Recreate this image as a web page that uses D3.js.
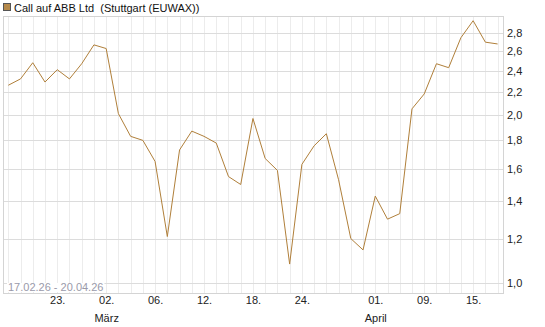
<!DOCTYPE html>
<html>
<head>
<meta charset="utf-8">
<script src="https://cdn.jsdelivr.net/npm/d3@7/dist/d3.min.js"></script>
<style>
  body { margin: 0; background: #fff; }
  text { font-family: "Liberation Sans", Arial, sans-serif; }
</style>
</head>
<body>
<div class="canvas"></div>
<script>
// trading days shown in the chart
const dates = [
  '17.02', '18.02', '19.02', '20.02', '23.02', '24.02', '25.02', '26.02',
  '02.03', '03.03', '04.03', '05.03', '06.03', '09.03', '10.03', '11.03',
  '12.03', '13.03', '16.03', '17.03', '18.03', '19.03', '20.03', '23.03',
  '24.03', '25.03', '26.03', '27.03', '30.03', '31.03', '01.04', '02.04',
  '07.04', '08.04', '09.04', '10.04', '13.04', '14.04', '15.04', '17.04', '20.04'
];

const prices = [
  2.26, 2.32, 2.48, 2.29, 2.41, 2.32, 2.47, 2.67, 2.63, 2.01, 1.83, 1.80,
  1.65, 1.21, 1.73, 1.87, 1.83, 1.78, 1.55, 1.50, 1.97, 1.67, 1.59, 1.08,
  1.63, 1.76, 1.85, 1.53, 1.20, 1.145, 1.43, 1.30, 1.33, 2.05, 2.18, 2.47,
  2.43, 2.75, 2.95, 2.70, 2.68
];

const yTicks = [1.0, 1.2, 1.4, 1.6, 1.8, 2.0, 2.2, 2.4, 2.6, 2.8];

// x tick labels: date -> label, month name under first day of month
const xTicks = ['23.02', '02.03', '06.03', '12.03', '18.03', '24.03', '01.04', '09.04', '15.04'];
const monthNames = { '03': 'März', '04': 'April' };

const title = 'Call auf ABB Ltd  (Stuttgart (EUWAX))';
const rangeLabel = '17.02.26 - 20.04.26';

const dims = { width: 545, height: 327 };
const plot = { left: 3, right: 503, top: 16, bottom: 293 };
const lineColor = '#b07f3a';

const svg = d3.select('.canvas')
  .append('svg')
  .attr('width', dims.width)
  .attr('height', dims.height);

const x = d3.scalePoint()
  .domain(dates)
  .range([8.3, 497.6]);

const y = d3.scaleLog()
  .domain([0.9584, 3.008])
  .range([plot.bottom, plot.top]);

// vertical grid, one line per trading day
svg.append('g')
  .selectAll('line')
  .data(dates)
  .enter().append('line')
  .attr('x1', d => Math.round(x(d)) + 0.5)
  .attr('x2', d => Math.round(x(d)) + 0.5)
  .attr('y1', plot.top)
  .attr('y2', plot.bottom)
  .attr('stroke', '#ececec');

// horizontal grid
svg.append('g')
  .selectAll('line')
  .data(yTicks)
  .enter().append('line')
  .attr('x1', plot.left)
  .attr('x2', plot.right)
  .attr('y1', d => Math.round(y(d)) + 0.5)
  .attr('y2', d => Math.round(y(d)) + 0.5)
  .attr('stroke', '#dcdcdc');

// frame
svg.append('rect')
  .attr('x', plot.left + 0.5)
  .attr('y', plot.top + 0.5)
  .attr('width', plot.right - plot.left)
  .attr('height', plot.bottom - plot.top)
  .attr('fill', 'none')
  .attr('stroke', '#d4d4d4');

// date range in the lower left corner
const rangeText = svg.append('text')
  .attr('x', 8)
  .attr('y', 291)
  .attr('font-size', 11)
  .attr('fill', '#9a9aaa')
  .text(rangeLabel);
const bb = rangeText.node().getBBox();
svg.insert('rect', 'text')
  .attr('x', bb.x - 1)
  .attr('y', 283)
  .attr('width', bb.width + 2)
  .attr('height', 9)
  .attr('fill', '#fff');

// price line
const line = d3.line()
  .x((d, i) => x(dates[i]))
  .y(d => y(d));

svg.append('path')
  .datum(prices)
  .attr('d', line)
  .attr('fill', 'none')
  .attr('stroke', lineColor)
  .attr('stroke-width', 1);

// y axis labels on the right
const yAxis = d3.axisRight(y)
  .tickValues(yTicks)
  .tickSize(0)
  .tickPadding(4)
  .tickFormat(d => d3.format('.1f')(d).replace('.', ','));

svg.append('g')
  .attr('transform', `translate(${plot.right}, 0)`)
  .call(yAxis)
  .call(g => g.select('.domain').remove())
  .call(g => g.selectAll('text')
    .attr('font-size', 11)
    .attr('font-family', '"Liberation Sans", Arial, sans-serif')
    .attr('fill', '#222'));

// x axis labels
const xAxis = d3.axisBottom(x)
  .tickValues(xTicks)
  .tickSize(0)
  .tickPadding(3)
  .tickFormat(d => d.slice(0, 3));

const xg = svg.append('g')
  .attr('transform', `translate(0, ${plot.bottom})`)
  .call(xAxis)
  .call(g => g.select('.domain').remove());

xg.selectAll('text')
  .attr('font-size', 11)
  .attr('font-family', '"Liberation Sans", Arial, sans-serif')
  .attr('fill', '#222');

xg.selectAll('.tick')
  .filter(d => d.startsWith('01') || d === '02.03')
  .append('text')
  .attr('y', 29)
  .attr('font-size', 11)
  .attr('font-family', '"Liberation Sans", Arial, sans-serif')
  .attr('fill', '#222')
  .attr('text-anchor', 'middle')
  .text(d => monthNames[d.slice(3)]);

// legend
svg.append('rect')
  .attr('x', 3.5)
  .attr('y', 3.5)
  .attr('width', 7)
  .attr('height', 7)
  .attr('fill', '#b5894a')
  .attr('stroke', '#555');

svg.append('text')
  .attr('x', 14)
  .attr('y', 11.5)
  .attr('font-size', 11)
  .attr('fill', '#111')
  .style('white-space', 'pre')
  .text(title);
</script>
</body>
</html>
